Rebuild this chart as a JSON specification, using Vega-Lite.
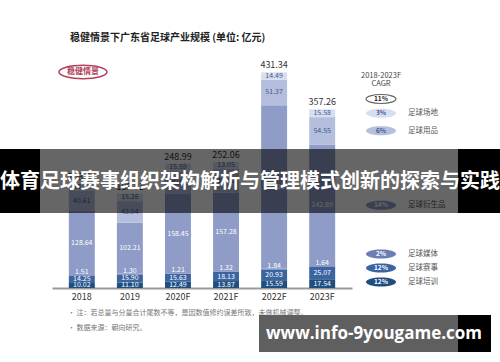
{
  "$schema": "https://vega.github.io/schema/vega-lite/v6.json",
  "width": 300,
  "height": 230,
  "padding": {"left": 52, "top": 58, "right": 148, "bottom": 74},
  "autosize": {"type": "none"},
  "background": "white",
  "config": {"view": {"stroke": null}, "font": "Noto Sans CJK SC"},
  "title": {"text": "稳健情景下广东省足球产业规模 (单位: 亿元)", "anchor": "start", "frame": "group", "dx": 18, "offset": 15, "fontSize": 10, "fontWeight": "bold", "color": "#222", "font": "Noto Sans CJK SC"},
  "datasets": {
    "seg": [
      {"year": "2018", "cat": "足球培训", "value": 10.02},
      {"year": "2018", "cat": "足球赛事", "value": 14.25},
      {"year": "2018", "cat": "足球媒体", "value": 1.51},
      {"year": "2018", "cat": "足球衍生品", "value": 128.64},
      {"year": "2018", "cat": "足球用品", "value": 40.61},
      {"year": "2018", "cat": "足球场地", "value": 13.44},
      {"year": "2019", "cat": "足球培训", "value": 11.10},
      {"year": "2019", "cat": "足球赛事", "value": 15.90},
      {"year": "2019", "cat": "足球媒体", "value": 1.30},
      {"year": "2019", "cat": "足球衍生品", "value": 102.21},
      {"year": "2019", "cat": "足球用品", "value": 43.04},
      {"year": "2019", "cat": "足球场地", "value": 15.26},
      {"year": "2020F", "cat": "足球培训", "value": 12.49},
      {"year": "2020F", "cat": "足球赛事", "value": 15.63},
      {"year": "2020F", "cat": "足球媒体", "value": 1.21},
      {"year": "2020F", "cat": "足球衍生品", "value": 158.45},
      {"year": "2020F", "cat": "足球用品", "value": 45.62},
      {"year": "2020F", "cat": "足球场地", "value": 15.59},
      {"year": "2021F", "cat": "足球培训", "value": 13.87},
      {"year": "2021F", "cat": "足球赛事", "value": 18.13},
      {"year": "2021F", "cat": "足球媒体", "value": 1.32},
      {"year": "2021F", "cat": "足球衍生品", "value": 157.28},
      {"year": "2021F", "cat": "足球用品", "value": 48.41},
      {"year": "2021F", "cat": "足球场地", "value": 13.05},
      {"year": "2022F", "cat": "足球培训", "value": 15.59},
      {"year": "2022F", "cat": "足球赛事", "value": 20.93},
      {"year": "2022F", "cat": "足球媒体", "value": 1.84},
      {"year": "2022F", "cat": "足球衍生品", "value": 327.12},
      {"year": "2022F", "cat": "足球用品", "value": 51.37},
      {"year": "2022F", "cat": "足球场地", "value": 14.49},
      {"year": "2023F", "cat": "足球培训", "value": 17.54},
      {"year": "2023F", "cat": "足球赛事", "value": 25.07},
      {"year": "2023F", "cat": "足球媒体", "value": 1.64},
      {"year": "2023F", "cat": "足球衍生品", "value": 242.89},
      {"year": "2023F", "cat": "足球用品", "value": 54.55},
      {"year": "2023F", "cat": "足球场地", "value": 15.58}
    ],
    "totals": [
      {"year": "2018", "total": 208.47},
      {"year": "2019", "total": 188.81},
      {"year": "2020F", "total": 248.99},
      {"year": "2021F", "total": 252.06},
      {"year": "2022F", "total": 431.34},
      {"year": "2023F", "total": 357.26}
    ],
    "cagr": [
      {"cat": "合计", "cagr": "11%"},
      {"cat": "足球场地", "cagr": "3%"},
      {"cat": "足球用品", "cagr": "6%"},
      {"cat": "足球衍生品", "cagr": "14%"},
      {"cat": "足球媒体", "cagr": "2%"},
      {"cat": "足球赛事", "cagr": "12%"},
      {"cat": "足球培训", "cagr": "12%"}
    ],
    "one": [{"k": 0}]
  },
  "layer": [
    {
      "data": {"name": "seg"},
      "transform": [
        {"calculate": "indexof(['足球培训','足球赛事','足球媒体','足球衍生品','足球用品','足球场地'], datum.cat)", "as": "k"},
        {"stack": "value", "groupby": ["year"], "sort": [{"field": "k"}], "as": ["v0", "v1"]},
        {"calculate": "(datum.v0 + datum.v1) / 2", "as": "mid"}
      ],
      "layer": [
        {
          "mark": {"type": "bar"},
          "encoding": {
            "x": {"field": "year", "type": "ordinal", "scale": {"paddingInner": 0.46, "paddingOuter": 0.35},
                  "axis": {"title": null, "labelAngle": 0, "ticks": false, "domainColor": "#9a9a9a", "domainWidth": 2, "labelFontSize": 9, "labelColor": "#333", "labelPadding": 4, "labelFont": "Noto Sans CJK SC"}},
            "y": {"field": "v0", "type": "quantitative", "scale": {"domain": [0, 460]}, "axis": null},
            "y2": {"field": "v1"},
            "color": {"field": "cat", "type": "nominal", "legend": null,
                      "scale": {"domain": ["足球培训", "足球赛事", "足球媒体", "足球衍生品", "足球用品", "足球场地"],
                                "range": ["#1f4e80", "#3a65a0", "#6b7fb3", "#8e9cc7", "#b5bedc", "#d8deef"]}}
          }
        },
        {
          "transform": [{"filter": "datum.k != 2"}],
          "mark": {"type": "text", "fontSize": 7, "baseline": "middle"},
          "encoding": {
            "x": {"field": "year", "type": "ordinal"},
            "y": {"field": "mid", "type": "quantitative", "scale": {"domain": [0, 460]}},
            "text": {"field": "value", "type": "quantitative", "format": ".2f"},
            "color": {"condition": {"test": "datum.k >= 4", "value": "#3d5a92"}, "value": "#ffffff"}
          }
        },
        {
          "transform": [{"filter": "datum.k == 2"}],
          "mark": {"type": "text", "fontSize": 7, "baseline": "bottom", "dy": 0, "color": "#ffffff"},
          "encoding": {
            "x": {"field": "year", "type": "ordinal"},
            "y": {"field": "v1", "type": "quantitative", "scale": {"domain": [0, 460]}},
            "text": {"field": "value", "type": "quantitative", "format": ".2f"}
          }
        },
        {
          "transform": [
            {"filter": "datum.year == '2023F'"},
            {"lookup": "cat", "from": {"data": {"name": "cagr"}, "key": "cat", "fields": ["cagr"]}},
            {"calculate": "datum.k >= 3 ? datum.mid : 12 + 28 * datum.k", "as": "ly"}
          ],
          "layer": [
            {
              "mark": {"type": "point", "shape": "M-1,0A1,0.3,0,1,0,1,0A1,0.3,0,1,0,-1,0Z", "size": 900, "filled": true, "opacity": 1},
              "encoding": {
                "x": {"value": 329},
                "y": {"field": "ly", "type": "quantitative", "scale": {"domain": [0, 460]}},
                "color": {"field": "cat", "type": "nominal", "legend": null}
              }
            },
            {
              "mark": {"type": "text", "fontSize": 6.5, "fontWeight": "bold", "baseline": "middle", "align": "center"},
              "encoding": {
                "x": {"value": 329},
                "y": {"field": "ly", "type": "quantitative", "scale": {"domain": [0, 460]}},
                "text": {"field": "cagr"},
                "color": {"condition": {"test": "datum.k >= 4", "value": "#3d5a92"}, "value": "#ffffff"}
              }
            },
            {
              "mark": {"type": "text", "fontSize": 7.5, "baseline": "middle", "align": "left", "color": "#555"},
              "encoding": {
                "x": {"value": 356},
                "y": {"field": "ly", "type": "quantitative", "scale": {"domain": [0, 460]}},
                "text": {"field": "cat"}
              }
            }
          ]
        }
      ]
    },
    {
      "data": {"name": "totals"},
      "mark": {"type": "text", "fontSize": 9, "baseline": "bottom", "dy": -2, "color": "#333"},
      "encoding": {
        "x": {"field": "year", "type": "ordinal"},
        "y": {"field": "total", "type": "quantitative", "scale": {"domain": [0, 460]}},
        "text": {"field": "total", "type": "quantitative", "format": ".2f"}
      }
    },
    {
      "data": {"name": "cagr"},
      "transform": [{"filter": "datum.cat == '合计'"}],
      "layer": [
        {
          "mark": {"type": "point", "shape": "M-1,0A1,0.3,0,1,0,1,0A1,0.3,0,1,0,-1,0Z", "size": 900, "filled": true, "fill": "white", "stroke": "#222", "strokeWidth": 1.2},
          "encoding": {"x": {"value": 329}, "y": {"datum": 378, "type": "quantitative", "scale": {"domain": [0, 460]}}}
        },
        {
          "mark": {"type": "text", "fontSize": 6.5, "fontWeight": "bold", "color": "#222", "baseline": "middle"},
          "encoding": {"x": {"value": 329}, "y": {"datum": 378, "type": "quantitative", "scale": {"domain": [0, 460]}}, "text": {"field": "cagr"}}
        }
      ]
    },
    {
      "data": {"name": "one"},
      "layer": [
        {
          "mark": {"type": "text", "fontSize": 7.5, "color": "#444", "baseline": "middle"},
          "encoding": {"x": {"value": 329}, "y": {"datum": 424, "type": "quantitative", "scale": {"domain": [0, 460]}}, "text": {"value": "2018-2023F"}}
        },
        {
          "mark": {"type": "text", "fontSize": 7.5, "color": "#444", "baseline": "middle"},
          "encoding": {"x": {"value": 329}, "y": {"datum": 408, "type": "quantitative", "scale": {"domain": [0, 460]}}, "text": {"value": "CAGR"}}
        },
        {
          "mark": {"type": "point", "shape": "M-1,0A1,0.28,0,1,0,1,0A1,0.28,0,1,0,-1,0Z", "size": 2304, "filled": false, "stroke": "#b0405a", "strokeWidth": 1.5, "opacity": 1},
          "encoding": {"x": {"value": 31}, "y": {"datum": 432, "type": "quantitative", "scale": {"domain": [0, 460]}}}
        },
        {
          "mark": {"type": "text", "fontSize": 8, "fontWeight": "bold", "color": "#b0405a", "baseline": "middle"},
          "encoding": {"x": {"value": 31}, "y": {"datum": 432, "type": "quantitative", "scale": {"domain": [0, 460]}}, "text": {"value": "稳健情景"}}
        },
        {
          "mark": {"type": "text", "fontSize": 7, "color": "#777", "baseline": "middle", "align": "left"},
          "encoding": {"x": {"value": 16}, "y": {"datum": -50, "type": "quantitative", "scale": {"domain": [0, 460]}}, "text": {"value": "•  注：若总量与分量合计尾数不等，是因数值修约误差所致，未做机械调整。"}}
        },
        {
          "mark": {"type": "text", "fontSize": 7, "color": "#777", "baseline": "middle", "align": "left"},
          "encoding": {"x": {"value": 16}, "y": {"datum": -80, "type": "quantitative", "scale": {"domain": [0, 460]}}, "text": {"value": "•  数据来源：朝向研究。"}}
        },
        {
          "mark": {"type": "rect", "color": "#000", "opacity": 0.6},
          "encoding": {"x": {"value": -12}, "x2": {"value": 406}, "y": {"datum": 278, "type": "quantitative", "scale": {"domain": [0, 460]}}, "y2": {"datum": 150}}
        },
        {
          "mark": {"type": "rect", "color": "#000", "opacity": 1},
          "encoding": {"x": {"value": -52}, "x2": {"value": -12}, "y": {"datum": 278, "type": "quantitative", "scale": {"domain": [0, 460]}}, "y2": {"datum": 150}}
        },
        {
          "mark": {"type": "rect", "color": "#000", "opacity": 1},
          "encoding": {"x": {"value": 406}, "x2": {"value": 448}, "y": {"datum": 278, "type": "quantitative", "scale": {"domain": [0, 460]}}, "y2": {"datum": 150}}
        },
        {
          "mark": {"type": "text", "fontSize": 20, "fontWeight": "bold", "color": "#ffffff", "baseline": "middle", "align": "center", "font": "Noto Sans CJK SC"},
          "encoding": {"x": {"value": 198}, "y": {"datum": 212, "type": "quantitative", "scale": {"domain": [0, 460]}}, "text": {"value": "体育足球赛事组织架构解析与管理模式创新的探索与实践"}}
        },
        {
          "mark": {"type": "rect", "color": "#5f5f5f", "opacity": 1},
          "encoding": {"x": {"value": 207}, "x2": {"value": 406}, "y": {"datum": -54, "type": "quantitative", "scale": {"domain": [0, 460]}}, "y2": {"datum": -128}}
        },
        {
          "mark": {"type": "rect", "color": "#000", "opacity": 1},
          "encoding": {"x": {"value": 406}, "x2": {"value": 439}, "y": {"datum": -54, "type": "quantitative", "scale": {"domain": [0, 460]}}, "y2": {"datum": -128}}
        },
        {
          "mark": {"type": "text", "fontSize": 17, "fontWeight": "bold", "color": "#ffffff", "baseline": "middle", "align": "center", "font": "Open Sans"},
          "encoding": {"x": {"value": 322}, "y": {"datum": -92, "type": "quantitative", "scale": {"domain": [0, 460]}}, "text": {"value": "www.info-9yougame.com"}}
        }
      ]
    }
  ]
}
